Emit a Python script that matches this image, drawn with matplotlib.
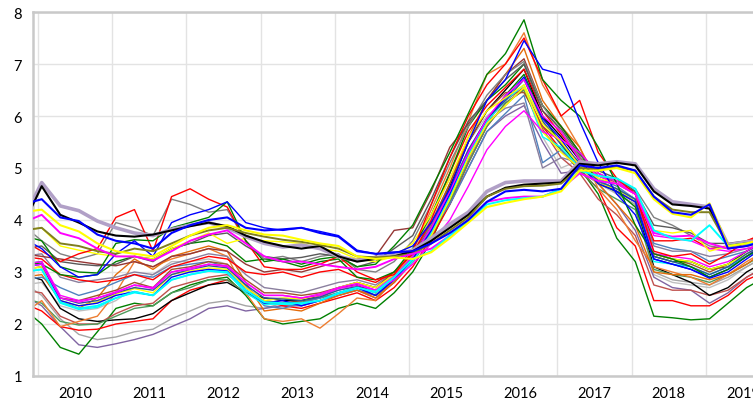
import numpy as np
import matplotlib.pyplot as plt

# quarterly sample points (decimal years), first one falls left of the axis
t = 2009.80 + 0.25 * np.arange(41)
years = list(range(2010, 2020))

# --- series ---
black = [3.9, 4.65, 4.1, 3.95, 3.78, 3.7, 3.68, 3.72, 3.8, 3.88, 3.95, 3.88, 3.7, 3.58, 3.5, 3.45, 3.5, 3.3, 3.2, 3.25, 3.3,
         3.4, 3.6, 3.85, 4.1, 4.45, 4.62, 4.68, 4.7, 4.72, 5.08, 5.05, 5.1, 5.05, 4.55, 4.3, 4.27, 4.22, 3.5, 3.55, 3.6]
lilac = [4.0, 4.72, 4.27, 4.18, 3.98, 3.85, 3.75, 3.7, 3.82, 3.9, 3.95, 3.85, 3.68, 3.55, 3.48, 3.52, 3.45, 3.3, 3.22, 3.28, 3.32,
         3.42, 3.65, 3.92, 4.15, 4.55, 4.72, 4.75, 4.75, 4.75, 5.12, 5.08, 5.12, 5.08, 4.6, 4.35, 4.3, 4.25, 3.52, 3.58, 3.62]
olive = [3.8, 3.85, 3.55, 3.5, 3.4, 3.35, 3.45, 3.4, 3.55, 3.7, 3.8, 3.85, 3.75, 3.68, 3.62, 3.58, 3.52, 3.45, 3.3, 3.28, 3.3,
         3.35, 3.55, 3.8, 4.05, 4.45, 4.6, 4.65, 4.66, 4.7, 5.0, 4.98, 5.02, 4.95, 4.45, 4.2, 4.15, 4.15, 3.5, 3.55, 3.6]
blue = [4.3, 4.4, 4.05, 3.98, 3.72, 3.6, 3.55, 3.45, 3.75, 3.9, 4.0, 4.05, 3.85, 3.8, 3.82, 3.85, 3.75, 3.68, 3.4, 3.35, 3.38,
        3.4, 3.55, 3.75, 4.0, 4.35, 4.55, 4.58, 4.55, 4.6, 5.05, 5.0, 5.05, 4.95, 4.45, 4.15, 4.1, 4.3, 3.45, 3.5, 3.6]
yellow = [4.15, 4.2, 3.9, 3.78, 3.55, 3.4, 3.35, 3.3, 3.5, 3.7, 3.85, 3.9, 3.8, 3.72, 3.7, 3.62, 3.55, 3.5, 3.3, 3.25, 3.28,
          3.25, 3.38, 3.65, 3.95, 4.25, 4.33, 4.4, 4.45, 4.55, 4.95, 4.95, 5.0, 4.9, 4.4, 4.12, 4.05, 4.32, 3.5, 3.55, 3.65]
magenta = [3.95, 4.1, 3.75, 3.65, 3.45, 3.3, 3.3, 3.22, 3.4, 3.6, 3.72, 3.8, 3.55, 3.3, 3.2, 3.2, 3.15, 3.1, 3.05, 3.1, 3.25,
           3.35, 3.45, 3.7, 4.0, 4.35, 4.42, 4.45, 4.45, 4.6, 4.9, 4.75, 4.7, 4.5, 3.75, 3.68, 3.7, 3.55, 3.45, 3.5, 3.6]
cyan = [3.0, 3.05, 2.42, 2.3, 2.35, 2.5, 2.62, 2.55, 2.85, 2.95, 3.02, 3.0, 2.65, 2.42, 2.4, 2.4, 2.45, 2.6, 2.7, 2.62, 2.9,
        3.25, 3.4, 3.7, 3.98, 4.3, 4.38, 4.42, 4.45, 4.6, 4.95, 4.85, 4.8, 4.6, 3.8, 3.65, 3.6, 3.9, 3.5, 3.55, 3.5]
green = [3.7, 3.6, 3.1, 3.0, 2.98, 3.55, 3.62, 3.6, 3.85, 3.95, 4.05, 4.35, 3.6, 3.2, 3.25, 3.15, 3.25, 3.3, 3.1, 3.15, 3.5,
         3.9, 4.6, 5.3, 6.05, 6.8, 7.2, 7.85, 6.7, 6.3, 6.0, 5.4, 4.7, 3.9, 3.35, 3.25, 3.1, 2.9, 3.05, 3.3, 3.5]
orange = [2.2, 2.45, 1.95, 2.05, 2.15, 2.6, 3.2, 3.1, 3.25, 3.35, 3.45, 3.3, 2.6, 2.1, 2.05, 2.1, 1.92, 2.2, 2.5, 2.45, 2.85,
          3.4, 4.2, 5.0, 5.9, 6.8, 7.0, 7.6, 6.6, 6.0, 5.4, 4.6, 4.2, 3.6, 3.1, 3.0, 2.9, 2.75, 2.95, 3.2, 3.4]
red = [3.6, 3.4, 3.2, 3.35, 3.45, 4.05, 4.2, 3.4, 4.45, 4.6, 4.4, 4.25, 3.6, 3.1, 3.05, 3.05, 3.15, 3.3, 3.0, 2.85, 2.95,
       3.4, 4.3, 5.2, 6.0, 6.6, 7.0, 7.5, 6.7, 6.0, 6.3, 5.3, 4.8, 4.5, 3.4, 3.3, 3.35, 3.15, 3.35, 3.6, 3.75]
blue2 = [3.65, 3.45, 3.1, 2.9, 2.95, 3.35, 3.6, 3.3, 3.95, 4.1, 4.2, 4.35, 3.95, 3.85, 3.8, 3.85, 3.78, 3.7, 3.42, 3.35, 3.35,
         3.5, 3.95, 4.6, 5.5, 6.3, 6.7, 7.45, 6.9, 6.8, 5.9, 5.1, 4.5, 4.1, 3.25, 3.15, 3.05, 2.88, 3.0, 3.25, 3.5]
brown = [3.35, 3.3, 3.25, 3.2, 3.15, 3.12, 3.2, 3.1, 3.3, 3.35, 3.45, 3.4, 3.15, 3.0, 3.05, 3.0, 3.1, 3.2, 3.25, 3.3, 3.8,
         3.85, 4.55, 5.4, 5.85, 6.3, 6.8, 7.1, 6.2, 5.8, 5.3, 4.9, 4.7, 4.55, 3.35, 3.25, 3.2, 3.05, 3.1, 3.3, 3.5]
grey = [3.9, 3.6, 3.35, 3.25, 3.35, 3.95, 3.85, 3.7, 4.4, 4.3, 4.15, 4.2, 3.6, 3.25, 3.3, 3.2, 3.3, 3.35, 3.05, 3.0, 3.2,
        3.6, 4.3, 5.1, 5.8, 6.4, 6.8, 7.05, 6.2, 5.7, 5.2, 4.85, 4.75, 4.6, 4.05, 3.9, 3.7, 3.5, 3.45, 3.5, 3.55]
dgrey = [3.45, 3.5, 3.2, 3.15, 3.12, 3.15, 3.3, 3.2, 3.45, 3.55, 3.7, 3.75, 3.5, 3.3, 3.25, 3.28, 3.35, 3.3, 3.1, 3.2, 3.45,
         3.7, 4.4, 5.2, 5.9, 6.3, 6.7, 7.0, 6.1, 5.75, 5.25, 4.95, 4.8, 4.55, 3.9, 3.85, 3.75, 3.55, 3.55, 3.6, 3.6]
steel = [2.85, 2.9, 2.7, 2.55, 2.65, 2.8, 2.95, 2.9, 3.1, 3.15, 3.2, 3.1, 2.75, 2.35, 2.3, 2.4, 2.5, 2.7, 2.8, 2.7, 2.95,
         3.3, 3.8, 4.3, 5.0, 5.7, 6.05, 6.4, 5.1, 5.35, 5.0, 4.8, 4.65, 4.4, 3.55, 3.45, 3.4, 3.2, 3.3, 3.4, 3.55]
purple = [2.55, 2.35, 1.95, 1.6, 1.55, 1.62, 1.7, 1.8, 1.95, 2.1, 2.3, 2.35, 2.25, 2.3, 2.35, 2.35, 2.45, 2.55, 2.65, 2.5, 2.8,
          3.2, 3.7, 4.3, 5.0, 5.7, 6.0, 6.2, 5.5, 4.9, 4.95, 4.7, 4.3, 3.8, 2.9, 2.7, 2.65, 2.4, 2.6, 2.9, 3.1]
pink = [3.1, 3.15, 2.5, 2.42, 2.5, 2.6, 2.75, 2.68, 3.0, 3.05, 3.15, 3.1, 2.8, 2.55, 2.55, 2.5, 2.55, 2.68, 2.75, 2.65, 2.85,
        3.15, 3.55, 4.0, 4.65, 5.35, 5.8, 6.1, 5.7, 5.55, 5.3, 4.9, 4.75, 4.5, 3.7, 3.65, 3.6, 3.45, 3.4, 3.45, 3.55]
yellow2 = [3.8, 3.85, 3.5, 3.42, 3.35, 3.3, 3.3, 3.25, 3.45, 3.6, 3.75, 3.55, 3.65, 3.6, 3.58, 3.55, 3.45, 3.4, 3.25, 3.2, 3.3,
           3.55, 4.1, 4.8, 5.6, 6.1, 6.35, 6.6, 5.85, 5.5, 5.05, 4.8, 4.7, 4.5, 3.8, 3.75, 3.8, 3.4, 3.5, 3.5, 3.55]
blue3 = [3.1, 3.15, 2.45, 2.35, 2.4, 2.55, 2.62, 2.55, 2.9, 3.0, 3.05, 3.02, 2.65, 2.4, 2.45, 2.35, 2.45, 2.6, 2.7, 2.55, 2.85,
         3.25, 3.8, 4.5, 5.3, 5.95, 6.35, 6.75, 5.95, 5.55, 5.05, 4.7, 4.55, 4.35, 3.25, 3.15, 3.05, 2.9, 3.05, 3.3, 3.55]
red2 = [2.4, 2.25, 1.95, 1.88, 1.9, 2.0, 2.05, 2.1, 2.45, 2.65, 2.75, 2.85, 2.6, 2.45, 2.35, 2.3, 2.4, 2.5, 2.6, 2.45, 2.7,
        3.1, 3.65, 4.3, 5.1, 5.8, 6.25, 6.5, 5.8, 5.35, 4.95, 4.6, 3.85, 3.5, 2.45, 2.45, 2.35, 2.35, 2.55, 2.85, 3.0]
green2 = [2.3, 2.0, 1.55, 1.42, 1.85, 2.3, 2.4, 2.35, 2.6, 2.75, 2.85, 2.9, 2.55, 2.1, 2.0, 2.05, 2.1, 2.3, 2.4, 2.3, 2.6,
          3.0, 3.6, 4.4, 5.2, 5.9, 6.4, 6.8, 6.0, 5.45, 5.0, 4.5, 3.65, 3.2, 2.15, 2.12, 2.08, 2.1, 2.4, 2.7, 2.9]
grey2 = [2.8, 2.55, 2.1, 1.8, 1.7, 1.75, 1.85, 1.9, 2.1, 2.25, 2.4, 2.45, 2.35, 2.3, 2.4, 2.35, 2.45, 2.55, 2.65, 2.55, 2.8,
         3.2, 3.75, 4.4, 5.15, 5.85, 6.2, 6.55, 5.9, 5.5, 5.1, 4.8, 4.5, 4.3, 3.0, 2.85, 2.8, 2.75, 2.9, 3.1, 3.3]
black2 = [2.95, 2.85, 2.3, 2.1, 2.05, 2.08, 2.1, 2.2, 2.45, 2.6, 2.75, 2.8, 2.6, 2.5, 2.45, 2.45, 2.55, 2.7, 2.75, 2.6, 2.9,
          3.3, 3.9, 4.65, 5.5, 6.1, 6.5, 6.9, 6.0, 5.6, 5.15, 4.75, 4.55, 4.35, 3.1, 2.95, 2.8, 2.55, 2.7, 3.0, 3.2]
dred = [2.65, 2.6, 2.15, 2.0, 2.0, 2.2, 2.35, 2.4, 2.7, 2.8, 2.9, 2.95, 2.7, 2.45, 2.4, 2.45, 2.5, 2.6, 2.65, 2.55, 2.8,
        3.2, 3.75, 4.45, 5.2, 5.9, 6.3, 6.55, 5.75, 5.2, 4.9, 4.4, 4.1, 3.7, 2.75, 2.65, 2.65, 2.55, 2.65, 2.9, 3.1]
orange2 = [2.9, 2.95, 2.45, 2.3, 2.5, 2.95, 3.25, 3.05, 3.3, 3.4, 3.5, 3.4, 2.8, 2.25, 2.3, 2.25, 2.4, 2.55, 2.65, 2.5, 2.8,
           3.2, 3.9, 4.7, 5.6, 6.3, 6.8, 7.3, 6.3, 5.8, 5.4, 4.7, 4.3, 3.9, 3.0, 2.95, 2.95, 2.85, 2.95, 3.15, 3.4]
cyan2 = [3.0, 3.05, 2.4, 2.28, 2.32, 2.5, 2.6, 2.55, 2.85, 2.95, 3.02, 2.98, 2.6, 2.38, 2.38, 2.38, 2.45, 2.58, 2.68, 2.6, 2.85,
         3.2, 3.75, 4.45, 5.25, 5.9, 6.3, 6.6, 5.6, 5.4, 5.0, 4.75, 4.6, 4.4, 3.2, 3.15, 3.1, 2.95, 3.1, 3.3, 3.5]
seagreen = [2.5, 2.4, 2.05, 1.98, 2.0, 2.15, 2.3, 2.35, 2.6, 2.7, 2.85, 2.85, 2.6, 2.4, 2.4, 2.42, 2.5, 2.6, 2.7, 2.55, 2.85,
            3.2, 3.7, 4.35, 5.1, 5.8, 6.25, 6.5, 5.7, 5.35, 4.95, 4.6, 4.4, 4.2, 3.05, 2.95, 2.9, 2.8, 2.95, 3.15, 3.35]
lgrey = [2.75, 2.8, 2.35, 2.25, 2.3, 2.45, 2.7, 2.95, 3.2, 3.2, 3.25, 3.15, 2.7, 2.5, 2.5, 2.48, 2.55, 2.65, 2.75, 2.65, 2.95,
         3.4, 4.05, 4.8, 5.5, 6.0, 6.3, 6.55, 5.6, 5.0, 5.15, 4.7, 4.5, 4.3, 2.95, 2.8, 2.75, 2.7, 2.85, 3.1, 3.3]
brown3 = [3.05, 3.1, 2.5, 2.45, 2.55, 2.65, 2.8, 2.7, 3.05, 3.1, 3.2, 3.15, 2.85, 2.6, 2.6, 2.55, 2.6, 2.7, 2.8, 2.7, 3.0,
          3.35, 3.95, 4.7, 5.5, 6.1, 6.45, 6.45, 5.8, 5.5, 5.05, 4.75, 4.6, 4.4, 3.35, 3.25, 3.15, 3.0, 3.15, 3.4, 3.6]
navy = [3.15, 3.2, 2.5, 2.4, 2.45, 2.6, 2.7, 2.65, 2.95, 3.05, 3.12, 3.08, 2.75, 2.5, 2.48, 2.45, 2.52, 2.65, 2.72, 2.62, 2.9,
        3.3, 3.85, 4.55, 5.35, 5.95, 6.3, 6.7, 5.9, 5.45, 5.1, 4.75, 4.6, 4.4, 3.3, 3.2, 3.1, 2.95, 3.1, 3.35, 3.55]
yellow3 = [3.05, 3.1, 2.45, 2.35, 2.42, 2.58, 2.68, 2.6, 2.95, 3.02, 3.08, 3.05, 2.7, 2.45, 2.5, 2.48, 2.55, 2.7, 2.8, 2.7, 2.95,
           3.3, 3.7, 4.4, 5.2, 5.85, 6.2, 6.55, 5.7, 5.3, 5.0, 4.7, 4.6, 4.35, 3.35, 3.25, 3.2, 3.05, 3.15, 3.35, 3.5]
red3 = [3.3, 3.25, 2.95, 2.85, 2.8, 2.85, 2.95, 2.85, 3.1, 3.2, 3.3, 3.25, 3.0, 2.95, 3.0, 2.9, 3.0, 3.05, 2.9, 2.8, 3.0,
        3.35, 4.0, 4.9, 5.7, 6.2, 6.55, 6.9, 6.1, 5.65, 5.2, 4.85, 4.7, 4.5, 3.6, 3.6, 3.65, 3.45, 3.5, 3.6, 3.7]
greypurple = [3.3, 3.35, 2.9, 2.8, 2.85, 2.9, 3.0, 2.95, 3.15, 3.25, 3.35, 3.3, 2.95, 2.7, 2.65, 2.6, 2.7, 2.8, 2.85, 2.75, 3.0,
              3.35, 3.9, 4.6, 5.35, 5.9, 6.15, 6.25, 5.0, 5.2, 5.1, 4.75, 4.55, 4.35, 3.5, 3.4, 3.4, 3.3, 3.35, 3.45, 3.55]
green3 = [3.2, 3.15, 2.95, 2.9, 2.95, 3.2, 3.3, 3.25, 3.45, 3.55, 3.6, 3.5, 3.2, 3.25, 3.2, 3.1, 3.2, 3.25, 2.9, 2.85, 3.0,
          3.45, 4.1, 4.9, 5.8, 6.3, 6.6, 7.0, 6.2, 5.8, 5.3, 4.7, 4.55, 4.25, 3.3, 3.2, 3.2, 3.05, 3.15, 3.4, 3.6]
magenta3 = [3.15, 3.2, 2.55, 2.45, 2.5, 2.62, 2.75, 2.7, 3.0, 3.08, 3.15, 3.12, 2.8, 2.55, 2.55, 2.5, 2.58, 2.7, 2.78, 2.65, 2.92,
            3.3, 3.85, 4.55, 5.3, 5.95, 6.4, 6.7, 6.0, 5.7, 5.15, 4.85, 4.7, 4.5, 3.35, 3.3, 3.25, 3.1, 3.2, 3.4, 3.6]

# thin lines first, heavier ones drawn on top (like the original)
thin = [
    (lgrey, '#bfbfbf'), (grey2, '#a5a5a5'), (purple, '#8064a2'), (green2, '#008000'),
    (red2, '#ff0000'), (dred, '#c0504d'), (black2, '#000000'), (seagreen, '#4e9a5c'),
    (orange, '#ed7d31'), (orange2, '#e46c0a'), (steel, '#4f81bd'), (greypurple, '#8a7f9e'),
    (brown, '#953735'), (brown3, '#a0522d'), (red3, '#ff0000'), (green3, '#008000'),
    (grey, '#808080'), (dgrey, '#595959'), (cyan2, '#00ffff'), (yellow3, '#ffff00'),
    (navy, '#2f5597'), (blue3, '#0000ff'), (pink, '#ff00ff'), (magenta3, '#ff00ff'),
    (yellow2, '#ffff00'), (red, '#ff0000'), (green, '#008000'), (blue2, '#0000ff'),
]
heavy = [
    (lilac, '#b1a0c7', 2.6), (black, '#000000', 1.5), (olive, '#7f7f1f', 1.4),
    (magenta, '#ff00ff', 1.4), (cyan, '#00ffff', 1.4), (yellow, '#ffff00', 1.5), (blue, '#0000ff', 1.5),
]

plt.rcParams['font.family'] = ['Lato', 'DejaVu Sans']

fig = plt.figure(figsize=(7.53, 4.06), dpi=100)
ax = fig.add_axes([33 / 753, 29 / 406, 720 / 753, 364 / 406])

for vals, col in thin:
    ax.plot(t, vals, color=col, lw=1.0, zorder=2)
for vals, col, w in heavy:
    ax.plot(t, vals, color=col, lw=w, zorder=3)

ax.set_xlim(2010 - 5 / 74.2, 2010 + 715 / 74.2)
ax.set_ylim(1, 8)

ax.set_xticks(years)
ax.set_xticklabels([])
ax.set_xticks([y + 0.5 for y in years], minor=True)
ax.set_xticklabels([str(y) for y in years], minor=True, fontsize=10.5)
ax.set_yticks(range(1, 9))
ax.set_yticklabels([str(v) for v in range(1, 9)], fontsize=10.5)
ax.tick_params(axis='both', which='both', length=0)
ax.tick_params(axis='x', which='minor', pad=7)
ax.tick_params(axis='y', pad=8)

ax.grid(True, which='major', color='#e3e3e3', lw=1.0, zorder=0)
ax.set_axisbelow(True)
for side in ['left', 'top', 'bottom']:
    ax.spines[side].set_color('#c9c9c9')
    ax.spines[side].set_linewidth(1.8)
ax.spines['right'].set_visible(False)

fig.savefig('out.png', dpi=100)
